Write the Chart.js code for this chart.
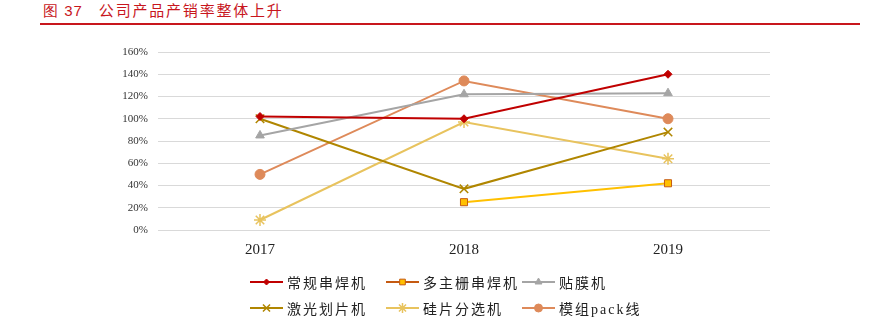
<!DOCTYPE html>
<html>
<head>
<meta charset="utf-8">
<script src="https://cdn.jsdelivr.net/npm/chart.js@4"></script>
<style>
  html, body { margin: 0; padding: 0; background: #fff; }
  #wrap { position: relative; width: 874px; height: 327px; overflow: hidden; }
  #title {
    position: absolute; left: 43px; top: 0px; height: 24px; line-height: 20px;
    font-family: "Noto Sans CJK SC", sans-serif; font-size: 15px; color: #C8161D;
    letter-spacing: 1.8px; white-space: nowrap;
  }
  #title .num { font-family: "Liberation Sans", sans-serif; margin-right: 16px; letter-spacing: 1px; }
  #rule { position: absolute; left: 40px; top: 23px; width: 820px; height: 2px; background: #C8161D; }
  #chartBox { position: absolute; left: 0; top: 0; width: 874px; height: 327px; }
  #legend {
    position: absolute; left: 250px; top: 269px;
    display: grid; grid-template-columns: 136px 136px 150px; grid-auto-rows: 26px;
  }
  .lg-item { display: flex; align-items: center; white-space: nowrap; }
  .lg-item canvas { width: 33px; height: 12px; margin-right: 4px; }
  .lg-item span {
    font-family: "Liberation Serif", "Noto Sans CJK SC", serif; font-size: 14px;
    letter-spacing: 2px; color: #222;
  }
</style>
</head>
<body>
<div id="wrap">
  <div id="title"><span class="num">图 37</span>公司产品产销率整体上升</div>
  <div id="rule"></div>
  <div id="chartBox"><canvas id="mainChart" width="874" height="327"></canvas></div>
  <div id="legend"></div>
</div>
<script>
/* ── Data ─────────────────────────────────────────────── */
const years = ['2017', '2018', '2019'];
const yTicks = [0, 20, 40, 60, 80, 100, 120, 140, 160];

const changguiChuanhan = [102, 100, 140];     // 常规串焊机
const duzhushanChuanhan = [null, 25, 42];     // 多主栅串焊机
const tiemo = [85, 122, 123];                 // 贴膜机
const jiguangHuapian = [100, 37, 88];         // 激光划片机
const guipianFenxuan = [9, 97, 64];           // 硅片分选机
const mozuPack = [50, 134, 100];              // 模组pack线

/* ── Series styles ────────────────────────────────────── */
const series = [
  { label: '常规串焊机', data: changguiChuanhan, color: '#C00000', point: 'rectRot', radius: 4, fill: '#C00000', edge: '#C00000', legendLine: '#C00000' },
  { label: '多主栅串焊机', data: duzhushanChuanhan, color: '#FFC000', point: 'rect', radius: 5, fill: '#FFC000', edge: '#C55A11', legendLine: '#C55A11' },
  { label: '贴膜机', data: tiemo, color: '#A5A5A5', point: 'triangle', radius: 5, fill: '#A5A5A5', edge: '#A5A5A5', legendLine: '#A5A5A5' },
  { label: '激光划片机', data: jiguangHuapian, color: '#B08600', point: 'crossRot', radius: 6, fill: '#B08600', edge: '#B08600', legendLine: '#B08600' },
  { label: '硅片分选机', data: guipianFenxuan, color: '#E8C35E', point: 'star', radius: 6, fill: '#E8C35E', edge: '#E8C35E', legendLine: '#E8C35E' },
  { label: '模组pack线', data: mozuPack, color: '#DE8A5A', point: 'circle', radius: 5, fill: '#DE8A5A', edge: '#DE8A5A', legendLine: '#DE8A5A' },
];

const tickFont = { family: 'Liberation Serif', size: 11 };

const ctx = document.getElementById('mainChart').getContext('2d');

const chart = new Chart(ctx, {
  type: 'line',
  data: {
    labels: years,
    datasets: series.map(s => ({
      label: s.label,
      data: s.data,
      borderColor: s.color,
      backgroundColor: s.fill,
      borderWidth: 2,
      pointStyle: s.point,
      pointRadius: s.radius,
      pointBackgroundColor: s.fill,
      pointBorderColor: s.edge,
      pointBorderWidth: s.point === 'crossRot' || s.point === 'star' ? 1.5 : 1,
      tension: 0,
      fill: false,
    }))
  },
  options: {
    responsive: false,
    animation: false,
    layout: { padding: { left: 0, right: 104, top: 52, bottom: 67 } },
    plugins: {
      legend: { display: false },
      tooltip: { enabled: false },
    },
    scales: {
      x: {
        offset: true,
        grid: { display: false },
        border: { display: false },
        ticks: { font: { family: 'Liberation Serif', size: 15 }, color: '#222', padding: 3 },
        afterFit: scale => { scale.height = 30; },
      },
      y: {
        min: 0,
        max: 160,
        afterBuildTicks: scale => { scale.ticks = yTicks.map(v => ({ value: v })); },
        grid: { color: '#D9D9D9', lineWidth: 1, drawTicks: false },
        border: { display: false },
        ticks: {
          font: tickFont,
          color: '#333',
          padding: 10,
          callback: v => v + '%',
        },
        afterFit: scale => { scale.width = 158; },
      }
    }
  }
});

/* ── Legend (line + marker sample, three columns) ─────── */
const legendBox = document.getElementById('legend');
series.forEach(s => {
  const item = document.createElement('div');
  item.className = 'lg-item';
  const c = document.createElement('canvas');
  c.width = 33; c.height = 12;
  const g = c.getContext('2d');
  g.strokeStyle = s.legendLine;
  g.lineWidth = 2;
  g.beginPath(); g.moveTo(0, 6); g.lineTo(33, 6); g.stroke();
  g.fillStyle = s.fill;
  g.strokeStyle = s.edge;
  g.lineWidth = s.point === 'crossRot' || s.point === 'star' ? 1.5 : 1;
  Chart.helpers.drawPoint(g, { pointStyle: s.point, radius: s.radius - 1, rotation: 0, borderWidth: g.lineWidth }, 16.5, 6);
  item.appendChild(c);
  const t = document.createElement('span');
  t.textContent = s.label;
  item.appendChild(t);
  legendBox.appendChild(item);
});
</script>
</body>
</html>
